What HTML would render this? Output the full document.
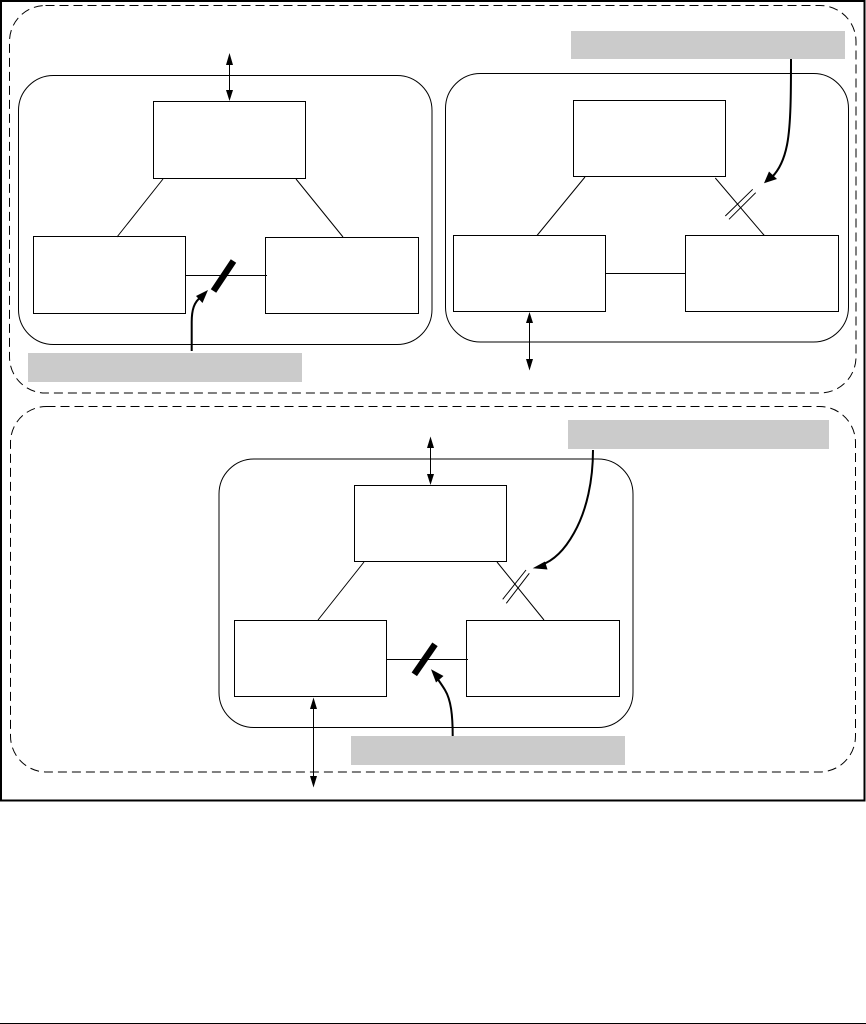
<!DOCTYPE html>
<html><head><meta charset="utf-8"><style>
html,body{margin:0;padding:0;background:#fff}
svg{display:block}
</style></head><body>
<svg xmlns="http://www.w3.org/2000/svg" width="866" height="1024" viewBox="0 0 866 1024">
<rect width="866" height="1024" fill="#fff"/>
<rect x="1" y="1" width="863.5" height="799.5" fill="none" stroke="#000" stroke-width="2"/>
<rect x="0" y="1023" width="866" height="1" fill="#000"/>
<g fill="none" stroke="#000" stroke-width="1" stroke-dasharray="9 5">
<rect x="9.5" y="5.5" width="846.5" height="387.5" rx="36" ry="36"/>
<rect x="10.5" y="406.5" width="845" height="365.5" rx="36" ry="36"/>
</g>
<g fill="#cbcbcb">
<rect x="28" y="353" width="274" height="29"/>
<rect x="571" y="31" width="274" height="28"/>
<rect x="568" y="420" width="261" height="29"/>
<rect x="351" y="736" width="274" height="29"/>
</g>
<g fill="none" stroke="#000" stroke-width="1">
<rect x="18.5" y="75.5" width="413.5" height="269" rx="35" ry="35"/>
<rect x="445.5" y="73.5" width="403" height="268.5" rx="35" ry="35"/>
<rect x="219" y="459" width="414" height="268.5" rx="35" ry="35"/>

<rect x="153.5" y="101.5" width="152" height="77"/>
<rect x="33.5" y="236.5" width="152" height="77"/>
<rect x="265.5" y="237.5" width="153" height="76"/>
<path d="M163 179L117 237M296 179L343 237M186 275.5H267"/>

<rect x="573.5" y="100.5" width="152" height="76"/>
<rect x="453.5" y="235.5" width="152" height="76"/>
<rect x="685.5" y="235.5" width="153" height="76"/>
<path d="M585 177L537 235.5M715.3 178L764.3 235.5M606 273.5H685"/>
<path d="M725.3 216L752.7 189.3M729 219.3L755.7 192.7"/>

<rect x="354.5" y="485.5" width="152" height="76"/>
<rect x="234.5" y="620.5" width="152" height="76"/>
<rect x="466.5" y="620.5" width="153" height="76"/>
<path d="M364 562L318 620M497 562L544 620M387 659.5H468"/>
<path d="M502.7 599.3L526 570M506.3 603.3L529.3 573.3"/>

<path d="M229.5 56V98M529.5 315V367M430.5 440V482M313.5 701V784"/>
</g>
<g fill="none" stroke="#000" stroke-width="6.5">
<path d="M233.5 261L213.5 291"/>
<path d="M435 644.3L414.3 674.3"/>
</g>
<g fill="none" stroke="#000" stroke-width="2">
<path d="M191.7 351V322C191.7 310 194 302 201 297"/>
<path d="M791 59C791 90 791 125 787 145C784 160 779 170 772 177"/>
<path d="M593 450C593 480 587 510 574 533C564 551 553 561 541 565"/>
<path d="M452.7 736C452.7 715 451 700 445 690C442 685 439 681 437 678"/>
</g>
<g fill="#000">
<path d="M229.5 53L226 65H233z"/><path d="M229.5 101L226 90H233z"/>
<path d="M529.5 312L526 323H533z"/><path d="M529.5 370.5L526 359H533z"/>
<path d="M430.5 436.5L427 448H434z"/><path d="M430.5 485L427 474H434z"/>
<path d="M313.5 697.5L310 709H317z"/><path d="M313.5 787.5L310 776H317z"/>
<path d="M208 290L196 296L202.500 303z"/>
<path d="M764 183.300L769 171.500L777 179z"/>
<path d="M532.700 568.300L545 561.500L547.500 569.500z"/>
<path d="M431 669.300L443.500 676L436 682.500z"/>
</g>
</svg>
</body></html>
